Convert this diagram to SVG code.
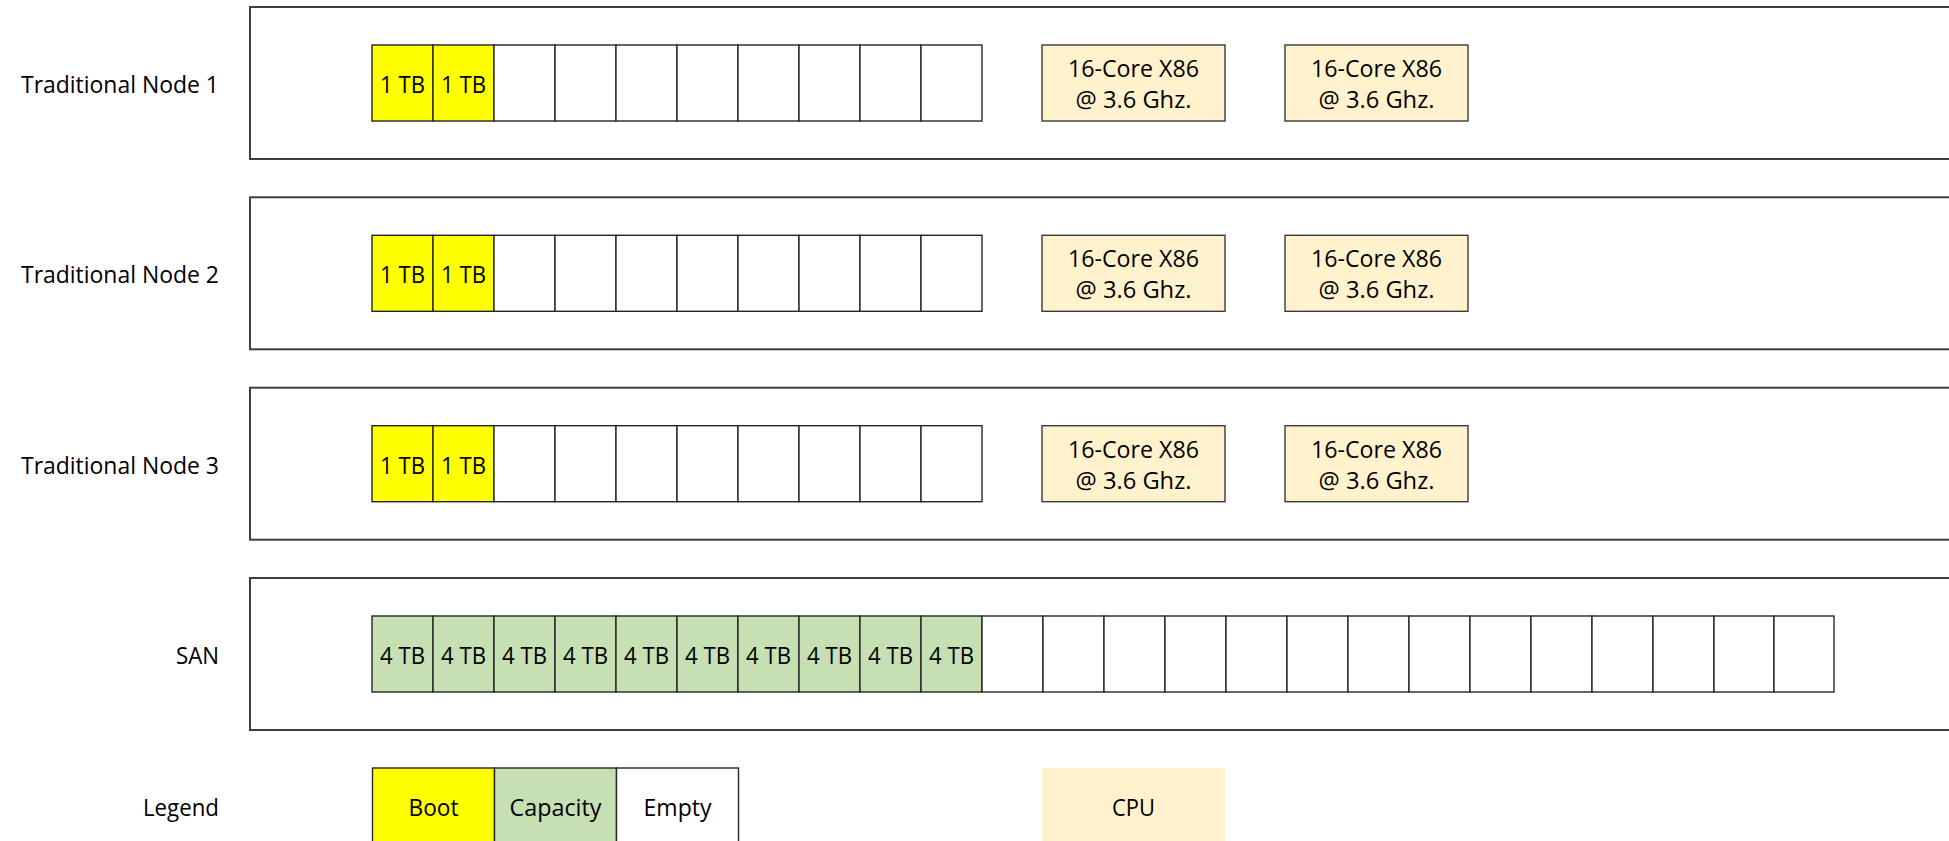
<svg xmlns="http://www.w3.org/2000/svg" width="1949" height="841" viewBox="0 0 1949 841">
<style>
text{font-family:"Open Sans","Noto Sans","Liberation Sans",sans-serif;font-size:24px;fill:#000}
.lbl{text-anchor:end}
.c{text-anchor:middle}
.frame{fill:#fff;stroke:#404040;stroke-width:2}
.drv{stroke:#262626;stroke-width:1.4}
.boot{fill:#ffff00}
.cap{fill:#c6e0b4}
.emp{fill:#fff}
.cpu{fill:#fff2cc;stroke:#3a3a3a;stroke-width:1.4}
</style>
<rect width="1949" height="841" fill="#fff"/>

<g id="node1">
<rect class="frame" x="250" y="7" width="1720" height="152"/>
<text class="lbl" x="219" y="93" textLength="198" lengthAdjust="spacingAndGlyphs">Traditional Node 1</text>
<rect class="drv boot" x="372" y="45" width="61" height="76"/>
<rect class="drv boot" x="433" y="45" width="61" height="76"/>
<rect class="drv emp" x="494" y="45" width="61" height="76"/>
<rect class="drv emp" x="555" y="45" width="61" height="76"/>
<rect class="drv emp" x="616" y="45" width="61" height="76"/>
<rect class="drv emp" x="677" y="45" width="61" height="76"/>
<rect class="drv emp" x="738" y="45" width="61" height="76"/>
<rect class="drv emp" x="799" y="45" width="61" height="76"/>
<rect class="drv emp" x="860" y="45" width="61" height="76"/>
<rect class="drv emp" x="921" y="45" width="61" height="76"/>
<text class="c" x="402.5" y="93" textLength="45" lengthAdjust="spacingAndGlyphs">1 TB</text>
<text class="c" x="463.5" y="93" textLength="45" lengthAdjust="spacingAndGlyphs">1 TB</text>
<rect class="cpu" x="1042" y="45" width="183" height="76"/>
<rect class="cpu" x="1285" y="45" width="183" height="76"/>
<text class="c" x="1133.5" y="77" textLength="131" lengthAdjust="spacingAndGlyphs">16-Core X86</text>
<text class="c" x="1133.5" y="108" textLength="116" lengthAdjust="spacingAndGlyphs">@ 3.6 Ghz.</text>
<text class="c" x="1376.5" y="77" textLength="131" lengthAdjust="spacingAndGlyphs">16-Core X86</text>
<text class="c" x="1376.5" y="108" textLength="116" lengthAdjust="spacingAndGlyphs">@ 3.6 Ghz.</text>
</g>

<g id="node2" transform="translate(0,190.3)">
<rect class="frame" x="250" y="7" width="1720" height="152"/>
<text class="lbl" x="219" y="93" textLength="198" lengthAdjust="spacingAndGlyphs">Traditional Node 2</text>
<rect class="drv boot" x="372" y="45" width="61" height="76"/>
<rect class="drv boot" x="433" y="45" width="61" height="76"/>
<rect class="drv emp" x="494" y="45" width="61" height="76"/>
<rect class="drv emp" x="555" y="45" width="61" height="76"/>
<rect class="drv emp" x="616" y="45" width="61" height="76"/>
<rect class="drv emp" x="677" y="45" width="61" height="76"/>
<rect class="drv emp" x="738" y="45" width="61" height="76"/>
<rect class="drv emp" x="799" y="45" width="61" height="76"/>
<rect class="drv emp" x="860" y="45" width="61" height="76"/>
<rect class="drv emp" x="921" y="45" width="61" height="76"/>
<text class="c" x="402.5" y="93" textLength="45" lengthAdjust="spacingAndGlyphs">1 TB</text>
<text class="c" x="463.5" y="93" textLength="45" lengthAdjust="spacingAndGlyphs">1 TB</text>
<rect class="cpu" x="1042" y="45" width="183" height="76"/>
<rect class="cpu" x="1285" y="45" width="183" height="76"/>
<text class="c" x="1133.5" y="77" textLength="131" lengthAdjust="spacingAndGlyphs">16-Core X86</text>
<text class="c" x="1133.5" y="108" textLength="116" lengthAdjust="spacingAndGlyphs">@ 3.6 Ghz.</text>
<text class="c" x="1376.5" y="77" textLength="131" lengthAdjust="spacingAndGlyphs">16-Core X86</text>
<text class="c" x="1376.5" y="108" textLength="116" lengthAdjust="spacingAndGlyphs">@ 3.6 Ghz.</text>
</g>

<g id="node3" transform="translate(0,380.7)">
<rect class="frame" x="250" y="7" width="1720" height="152"/>
<text class="lbl" x="219" y="93" textLength="198" lengthAdjust="spacingAndGlyphs">Traditional Node 3</text>
<rect class="drv boot" x="372" y="45" width="61" height="76"/>
<rect class="drv boot" x="433" y="45" width="61" height="76"/>
<rect class="drv emp" x="494" y="45" width="61" height="76"/>
<rect class="drv emp" x="555" y="45" width="61" height="76"/>
<rect class="drv emp" x="616" y="45" width="61" height="76"/>
<rect class="drv emp" x="677" y="45" width="61" height="76"/>
<rect class="drv emp" x="738" y="45" width="61" height="76"/>
<rect class="drv emp" x="799" y="45" width="61" height="76"/>
<rect class="drv emp" x="860" y="45" width="61" height="76"/>
<rect class="drv emp" x="921" y="45" width="61" height="76"/>
<text class="c" x="402.5" y="93" textLength="45" lengthAdjust="spacingAndGlyphs">1 TB</text>
<text class="c" x="463.5" y="93" textLength="45" lengthAdjust="spacingAndGlyphs">1 TB</text>
<rect class="cpu" x="1042" y="45" width="183" height="76"/>
<rect class="cpu" x="1285" y="45" width="183" height="76"/>
<text class="c" x="1133.5" y="77" textLength="131" lengthAdjust="spacingAndGlyphs">16-Core X86</text>
<text class="c" x="1133.5" y="108" textLength="116" lengthAdjust="spacingAndGlyphs">@ 3.6 Ghz.</text>
<text class="c" x="1376.5" y="77" textLength="131" lengthAdjust="spacingAndGlyphs">16-Core X86</text>
<text class="c" x="1376.5" y="108" textLength="116" lengthAdjust="spacingAndGlyphs">@ 3.6 Ghz.</text>
</g>

<g id="san" transform="translate(0,571)">
<rect class="frame" x="250" y="7" width="1720" height="152"/>
<text class="lbl" x="219" y="93" textLength="43" lengthAdjust="spacingAndGlyphs">SAN</text>
<rect class="drv cap" x="372" y="45" width="61" height="76"/>
<rect class="drv cap" x="433" y="45" width="61" height="76"/>
<rect class="drv cap" x="494" y="45" width="61" height="76"/>
<rect class="drv cap" x="555" y="45" width="61" height="76"/>
<rect class="drv cap" x="616" y="45" width="61" height="76"/>
<rect class="drv cap" x="677" y="45" width="61" height="76"/>
<rect class="drv cap" x="738" y="45" width="61" height="76"/>
<rect class="drv cap" x="799" y="45" width="61" height="76"/>
<rect class="drv cap" x="860" y="45" width="61" height="76"/>
<rect class="drv cap" x="921" y="45" width="61" height="76"/>
<rect class="drv emp" x="982" y="45" width="61" height="76"/>
<rect class="drv emp" x="1043" y="45" width="61" height="76"/>
<rect class="drv emp" x="1104" y="45" width="61" height="76"/>
<rect class="drv emp" x="1165" y="45" width="61" height="76"/>
<rect class="drv emp" x="1226" y="45" width="61" height="76"/>
<rect class="drv emp" x="1287" y="45" width="61" height="76"/>
<rect class="drv emp" x="1348" y="45" width="61" height="76"/>
<rect class="drv emp" x="1409" y="45" width="61" height="76"/>
<rect class="drv emp" x="1470" y="45" width="61" height="76"/>
<rect class="drv emp" x="1531" y="45" width="61" height="76"/>
<rect class="drv emp" x="1592" y="45" width="61" height="76"/>
<rect class="drv emp" x="1653" y="45" width="61" height="76"/>
<rect class="drv emp" x="1714" y="45" width="60" height="76"/>
<rect class="drv emp" x="1774" y="45" width="60" height="76"/>
<text class="c" x="402.5" y="93" textLength="45" lengthAdjust="spacingAndGlyphs">4 TB</text>
<text class="c" x="463.5" y="93" textLength="45" lengthAdjust="spacingAndGlyphs">4 TB</text>
<text class="c" x="524.5" y="93" textLength="45" lengthAdjust="spacingAndGlyphs">4 TB</text>
<text class="c" x="585.5" y="93" textLength="45" lengthAdjust="spacingAndGlyphs">4 TB</text>
<text class="c" x="646.5" y="93" textLength="45" lengthAdjust="spacingAndGlyphs">4 TB</text>
<text class="c" x="707.5" y="93" textLength="45" lengthAdjust="spacingAndGlyphs">4 TB</text>
<text class="c" x="768.5" y="93" textLength="45" lengthAdjust="spacingAndGlyphs">4 TB</text>
<text class="c" x="829.5" y="93" textLength="45" lengthAdjust="spacingAndGlyphs">4 TB</text>
<text class="c" x="890.5" y="93" textLength="45" lengthAdjust="spacingAndGlyphs">4 TB</text>
<text class="c" x="951.5" y="93" textLength="45" lengthAdjust="spacingAndGlyphs">4 TB</text>
</g>

<g id="legend">
<text class="lbl" x="219" y="816" textLength="76" lengthAdjust="spacingAndGlyphs">Legend</text>
<rect class="drv boot" x="372.5" y="768" width="122" height="100"/>
<rect class="drv cap" x="494.5" y="768" width="122" height="100"/>
<rect class="drv emp" x="616.5" y="768" width="122" height="100"/>
<rect x="1042" y="768" width="183" height="100" fill="#fff2cc"/>
<text class="c" x="433.5" y="816" textLength="50" lengthAdjust="spacingAndGlyphs">Boot</text>
<text class="c" x="555.5" y="816" textLength="92" lengthAdjust="spacingAndGlyphs">Capacity</text>
<text class="c" x="677.5" y="816" textLength="68" lengthAdjust="spacingAndGlyphs">Empty</text>
<text class="c" x="1133.5" y="816" textLength="43" lengthAdjust="spacingAndGlyphs">CPU</text>
</g>

<g id="connectors"></g>
</svg>
